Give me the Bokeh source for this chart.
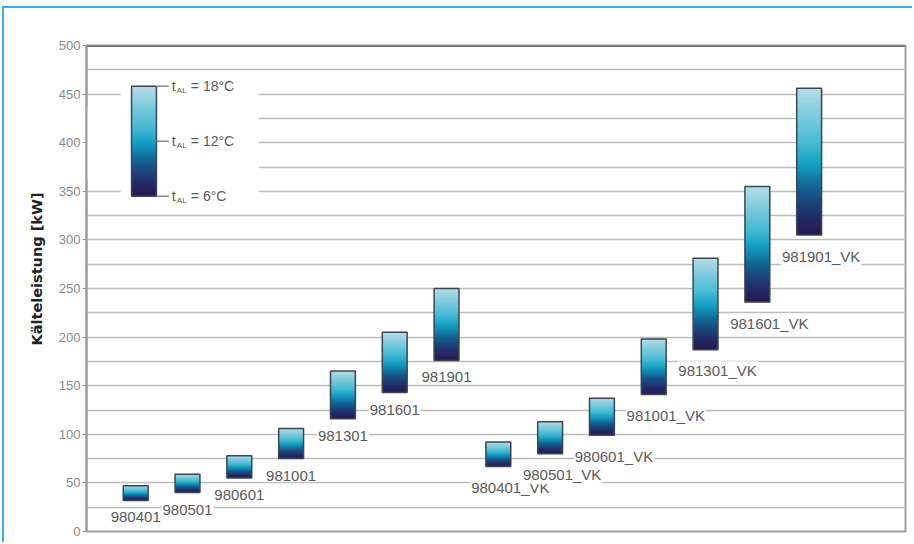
import numpy as np
from bokeh.plotting import figure
from bokeh.models import Range1d, FixedTicker, Span, Title, ColumnDataSource
from bokeh.core.properties import value
from bokeh.embed import file_html
from bokeh.resources import INLINE

# ---------------- data ----------------
names = ["980401", "980501", "980601", "981001", "981301", "981601", "981901",
         "980401_VK", "980501_VK", "980601_VK", "981001_VK", "981301_VK", "981601_VK", "981901_VK"]
low_6C = [32, 40, 55, 75, 116, 143, 176, 67, 80, 99, 141, 187, 236, 305]      # t_AL = 6 °C
high_18C = [47, 59, 78, 106, 165, 205, 250, 92, 113, 137, 198, 281, 355, 456]  # t_AL = 18 °C
y_ticks = [0, 50, 100, 150, 200, 250, 300, 350, 400, 450, 500]
legend_levels = [345, 401.5, 458]
legend_texts = ["= 6°C", "= 12°C", "= 18°C"]

# ---------------- styling helpers ----------------
stops = [0.0, 0.12, 0.30, 0.48, 0.62, 1.0]
cols = [(42, 26, 82), (34, 44, 104), (20, 92, 142), (18, 160, 196), (70, 186, 212), (182, 222, 232)]
rows = 160
t = np.linspace(0, 1, rows)
img = np.empty((rows, 2), dtype=np.uint32)
view = img.view(dtype=np.uint8).reshape((rows, 2, 4))
for ch in range(3):
    c = np.interp(t, stops, [cc[ch] for cc in cols])
    view[:, :, ch] = c.astype(np.uint8)[:, None]
view[:, :, 3] = 255

BW = 0.48
xs = list(range(1, len(names) + 1))

p = figure(width=910, height=536, output_backend="svg", toolbar_location=None,
           x_range=Range1d(0.05, 15.86), y_range=Range1d(0, 500),
           min_border_left=82, min_border_right=9, min_border_top=37, min_border_bottom=13,
           background_fill_color="white", border_fill_color="white")
p.styles = {"margin-left": "2px", "margin-top": "6px",
            "border-top": "2px solid #3aaee0", "border-left": "2px solid #3aaee0"}

p.xaxis.visible = False
p.xgrid.visible = False
p.ygrid.ticker = FixedTicker(ticks=list(range(25, 500, 25)))
p.ygrid.grid_line_color = "#bdbdbd"
p.ygrid.grid_line_width = 1.6

ax = p.yaxis[0]
ax.ticker = FixedTicker(ticks=y_ticks)
ax.minor_tick_line_color = None
ax.major_tick_out = 4
ax.major_tick_in = 0
ax.major_label_standoff = 2
ax.axis_line_color = "#9a9a9a"
ax.axis_line_width = 2
ax.major_tick_line_color = "#9a9a9a"
ax.major_label_text_font = "Liberation Sans"
ax.major_label_text_font_size = "13px"
ax.major_label_text_color = "#8a8a8a"

p.outline_line_color = "#a0a0a0"
p.outline_line_width = 2
p.add_layout(Span(location=500, dimension="width", line_color="#6e6e6e", line_width=3))

# white area behind the legend (covers gridlines)
p.quad(left=[0.71, 0.05], right=[3.37, 3.37], bottom=[340, 362], top=[462, 438],
       fill_color="white", line_color=None)

# ---------------- bars ----------------
src = ColumnDataSource(dict(
    x=xs, name=names, low=low_6C, high=high_18C,
    left=[x - BW / 2 for x in xs], right=[x + BW / 2 for x in xs],
    h=[h - l for h, l in zip(high_18C, low_6C)],
    img=[img] * len(names),
    xo=[12 if n.endswith("_VK") else 0 for n in names],
    yo=[21 if n.endswith("_VK") else 17 for n in names],
))
p.image_rgba(image="img", x="left", y="low", dw=BW, dh="h", source=src)
p.quad(left="left", right="right", bottom="low", top="high", source=src,
       fill_alpha=0, line_color="#3d4650", line_width=1.5)
p.text(x="x", y="low", text="name", source=src, x_offset="xo", y_offset="yo",
       text_align="center", text_baseline="middle",
       text_font=value("Liberation Sans"), text_font_size="15px", text_color="#5a5a5a",
       background_fill_color="white", padding=1)

# ---------------- legend bar ----------------
LX = 1.16
p.image_rgba(image=[img], x=[LX - BW / 2], y=[legend_levels[0]], dw=[BW],
             dh=[legend_levels[-1] - legend_levels[0]])
p.quad(left=[LX - BW / 2], right=[LX + BW / 2], bottom=[legend_levels[0]], top=[legend_levels[-1]],
       fill_alpha=0, line_color="#3d4650", line_width=1.5)
TX0 = LX + BW / 2
TX1 = TX0 + 0.24
p.segment(x0=[TX0] * 3, x1=[TX1] * 3, y0=legend_levels, y1=legend_levels,
          line_color="#8a8a8a", line_width=1.5)
p.text(x=[TX1] * 3, y=legend_levels, text=["t"] * 3, x_offset=3,
       text_align="left", text_baseline="middle",
       text_font=value("Liberation Sans"), text_font_size="14px", text_color="#5a5a5a")
p.text(x=[TX1] * 3, y=legend_levels, text=["AL"] * 3, x_offset=8, y_offset=4,
       text_align="left", text_baseline="middle",
       text_font=value("Liberation Sans"), text_font_size="8px", text_color="#5a5a5a")
p.text(x=[TX1] * 3, y=legend_levels, text=legend_texts, x_offset=22,
       text_align="left", text_baseline="middle",
       text_font=value("Liberation Sans"), text_font_size="14px", text_color="#5a5a5a")

# ---------------- axis title ----------------
p.add_layout(Title(text="Kälteleistung [kW]", align="left", offset=186, standoff=21,
                   text_font="DejaVu Sans", text_font_style="bold",
                   text_font_size="14.5px", text_color="#222222"), "left")

open("out.html", "w").write(file_html(p, INLINE))
